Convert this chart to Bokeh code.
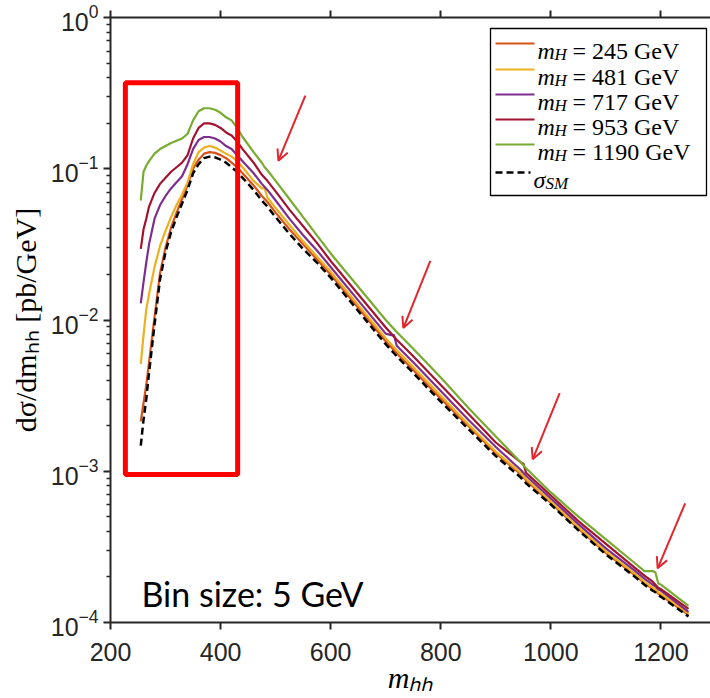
import math
from bokeh.plotting import figure
from bokeh.models import (FixedTicker, LinearAxis, Label, BoxAnnotation, Arrow,
                          OpenHead, Range1d, ColumnDataSource)
from bokeh.embed import file_html
from bokeh.resources import INLINE

# ---------------- data (log10 of dσ/dm_hh in pb/GeV) ----------------
M_HH = [255, 260, 265, 270, 280, 290, 300, 310, 320, 330, 340, 350, 360, 370, 380, 390, 400,
        410, 420, 430, 440, 460, 475, 480, 485, 500, 525, 550, 575, 600, 650, 700, 710, 715,
        720, 750, 800, 850, 900, 945, 950, 955, 1000, 1050, 1100, 1150, 1170, 1185, 1190,
        1195, 1200, 1250]

LOG_MH245 = [-2.67, -2.55, -2.43, -2.28,
             -1.98, -1.69, -1.52, -1.39, -1.29, -1.20, -1.11, -1.00, -0.94, -0.90, -0.89, -0.895, -0.91, -0.93, -0.96, -0.99, -1.03,
             -1.11, -1.18, -1.20, -1.22, -1.29,
             -1.40, -1.50, -1.60, -1.70, -1.92, -2.14,
             -2.18, -2.20, -2.22, -2.33, -2.52, -2.70, -2.88,
             -3.02, -3.04, -3.06, -3.21, -3.38, -3.54, -3.68,
             -3.74, -3.78, -3.79, -3.81, -3.82, -3.95]

LOG_MH481 = [-2.29, -2.10, -1.93, -1.83,
             -1.65, -1.51, -1.41, -1.32, -1.24, -1.17, -1.09, -0.97, -0.89, -0.86, -0.85, -0.86, -0.88, -0.90, -0.92, -0.95, -0.99,
             -1.08, -1.13, -1.13, -1.19, -1.26,
             -1.37, -1.48, -1.58, -1.68, -1.90, -2.12,
             -2.16, -2.18, -2.20, -2.31, -2.50, -2.69, -2.87,
             -3.01, -3.03, -3.05, -3.20, -3.37, -3.53, -3.67,
             -3.73, -3.77, -3.78, -3.80, -3.81, -3.94]

LOG_MH717 = [-1.89, -1.75, -1.62, -1.50,
             -1.33, -1.24, -1.18, -1.13, -1.09, -1.05, -0.97, -0.87, -0.81, -0.79, -0.79, -0.80, -0.82, -0.85, -0.87, -0.91, -0.95,
             -1.03, -1.10, -1.12, -1.14, -1.21,
             -1.33, -1.44, -1.54, -1.65, -1.87, -2.09,
             -2.10, -2.10, -2.17, -2.28, -2.47, -2.66, -2.84,
             -2.99, -3.01, -3.03, -3.18, -3.35, -3.51, -3.65,
             -3.71, -3.75, -3.76, -3.78, -3.79, -3.93]

LOG_MH953 = [-1.53, -1.40, -1.33, -1.25,
             -1.16, -1.10, -1.06, -1.02, -0.99, -0.96, -0.91, -0.80, -0.73, -0.70, -0.70, -0.71, -0.73, -0.76, -0.78, -0.82, -0.87,
             -0.96, -1.04, -1.06, -1.08, -1.15,
             -1.27, -1.38, -1.49, -1.61, -1.83, -2.05,
             -2.09, -2.11, -2.13, -2.24, -2.43, -2.62, -2.81,
             -2.94, -2.95, -3.01, -3.16, -3.33, -3.48, -3.63,
             -3.69, -3.73, -3.75, -3.77, -3.78, -3.91]

LOG_MH1190 = [-1.21, -1.02, -0.98, -0.95,
              -0.90, -0.87, -0.85, -0.83, -0.815, -0.80, -0.77, -0.68, -0.62, -0.60, -0.60, -0.61, -0.63, -0.66, -0.68, -0.73, -0.79,
              -0.89, -0.96, -0.99, -1.01, -1.08,
              -1.20, -1.32, -1.44, -1.56, -1.78, -2.00,
              -2.04, -2.06, -2.08, -2.19, -2.38, -2.58, -2.77,
              -2.94, -2.96, -2.98, -3.14, -3.30, -3.45, -3.60,
              -3.66, -3.66, -3.67, -3.74, -3.75, -3.89]

LOG_SM = [-2.83, -2.66, -2.52, -2.35,
          -2.03, -1.73, -1.55, -1.42, -1.32, -1.23, -1.14, -1.03, -0.97, -0.93, -0.92, -0.925, -0.94, -0.96, -0.99, -1.02, -1.06,
          -1.14, -1.21, -1.23, -1.25, -1.32,
          -1.43, -1.53, -1.62, -1.72, -1.94, -2.16,
          -2.20, -2.22, -2.24, -2.35, -2.54, -2.72, -2.90,
          -3.04, -3.06, -3.08, -3.22, -3.39, -3.55, -3.69,
          -3.75, -3.79, -3.80, -3.82, -3.83, -3.96]

MH_LABELS = ["245", "481", "717", "953", "1190"]
SERIES = [LOG_MH245, LOG_MH481, LOG_MH717, LOG_MH953, LOG_MH1190]
COLORS = ["#D95319", "#EDB120", "#7E2F8E", "#A2142F", "#77AC30"]

X_TICKS = [200, 400, 600, 800, 1000, 1200]
Y_TICKS = [1e-4, 1e-3, 1e-2, 1e-1, 1.0]
Y_MINOR = [m * 10.0 ** e for e in range(-4, 0) for m in range(2, 10)]

X_TITLE = "mₕₕ"
Y_TITLE = "dσ/dmₕₕ [pb/GeV]"

# ---------------- layout constants ----------------
W, H = 710, 698
FRAME_LEFT, FRAME_TOP, FRAME_RIGHT, FRAME_BOTTOM = 110, 17, 710, 622
X0, X1 = 200, 1290
Y0, Y1 = 1e-4, 1.0
AX = "#262626"
SERIF = "Liberation Serif"
SANS = "Liberation Sans"
ARROW_RED = "#E3262E"

def dx(px):
    return X0 + (px - FRAME_LEFT) * (X1 - X0) / (FRAME_RIGHT - FRAME_LEFT)

def dy(py):
    return 10 ** (math.log10(Y1) - (py - FRAME_TOP) * (math.log10(Y1) - math.log10(Y0)) / (FRAME_BOTTOM - FRAME_TOP))

p = figure(width=W, height=H, x_range=Range1d(X0, X1), y_range=Range1d(Y0, Y1),
           y_axis_type="log", output_backend="svg", toolbar_location=None,
           min_border_left=FRAME_LEFT, min_border_right=W - FRAME_RIGHT,
           min_border_top=FRAME_TOP, min_border_bottom=H - FRAME_BOTTOM)
p.outline_line_color = None
p.grid.visible = False
p.background_fill_color = "white"
p.border_fill_color = "white"

# axes
p.xaxis.ticker = FixedTicker(ticks=X_TICKS)
p.yaxis.ticker = FixedTicker(ticks=Y_TICKS, minor_ticks=Y_MINOR)
for ax in (p.xaxis[0], p.yaxis[0]):
    ax.axis_line_color = AX
    ax.axis_line_width = 2
    ax.major_tick_line_color = AX
    ax.major_tick_line_width = 2
    ax.major_tick_in = 0
    ax.major_tick_out = 7
    ax.major_label_text_font = SANS
    ax.major_label_text_font_size = "25px"
    ax.major_label_text_color = AX
    ax.axis_label_text_font = SERIF
    ax.axis_label_text_color = "black"
p.xaxis.minor_tick_line_color = None
p.xaxis.major_label_standoff = 13
p.xaxis.axis_label = X_TITLE
p.xaxis.axis_label_text_font_size = "30px"
p.xaxis.axis_label_text_font_style = "italic"
p.xaxis.axis_label_standoff = -3
p.yaxis.minor_tick_line_color = AX
p.yaxis.minor_tick_line_width = 1.5
p.yaxis.minor_tick_in = 0
p.yaxis.minor_tick_out = 4
p.yaxis.major_label_standoff = 5
p.yaxis.axis_label = Y_TITLE
p.yaxis.axis_label_text_font_size = "30px"
p.yaxis.axis_label_text_font_style = "normal"
p.yaxis.axis_label_standoff = 6

# top border with outward ticks, no labels
top = LinearAxis(ticker=FixedTicker(ticks=X_TICKS), axis_line_color=AX, axis_line_width=2,
                 major_tick_line_color=AX, major_tick_line_width=2, major_tick_in=0,
                 major_tick_out=7, minor_tick_line_color=None,
                 major_label_overrides={t: "" for t in X_TICKS},
                 major_label_text_font_size="8px", major_label_standoff=0)
p.add_layout(top, "above")

# curves
for vals, col in zip(SERIES, COLORS):
    src = ColumnDataSource(dict(x=M_HH, y=[10 ** v for v in vals]))
    p.line("x", "y", source=src, line_color=col, line_width=2.2)
src_sm = ColumnDataSource(dict(x=M_HH, y=[10 ** v for v in LOG_SM]))
p.line("x", "y", source=src_sm, line_color="black", line_width=2.5, line_dash="7 4")

# red highlight box (data region)
p.add_layout(BoxAnnotation(left=227, right=431, bottom=9.5e-4, top=0.37,
                           fill_alpha=0, line_color="#FF0000", line_alpha=1.0, line_width=5))

# red arrows
ARROWS = [((554, 0.304), (505, 0.113)),
          ((781, 0.0246), (732, 8.85e-3)),
          ((1016, 3.29e-3), (967, 1.2e-3)),
          ((1244, 6.14e-4), (1194, 2.28e-4))]
for (xs, ys), (xe, ye) in ARROWS:
    p.add_layout(Arrow(x_start=xs, y_start=ys, x_end=xe, y_end=ye, line_color=ARROW_RED,
                       line_width=2, end=OpenHead(size=11, line_color=ARROW_RED, line_width=2)))

def txt(text, px, py, size, style="normal", font=SERIF, angle=0.0, color="black", align="left"):
    p.add_layout(Label(x=X0, y=Y1, x_offset=px - FRAME_LEFT, y_offset=FRAME_TOP - py,
                       text=text, text_font=font, text_font_size=f"{size}px",
                       text_font_style=style, text_color=color, text_align=align,
                       text_baseline="alphabetic", angle=angle))

# legend
LEG_L, LEG_T, LEG_R, LEG_B = 490, 28, 706, 195
p.add_layout(BoxAnnotation(left=dx(LEG_L), right=dx(LEG_R), top=dy(LEG_T), bottom=dy(LEG_B),
                           fill_color="white", fill_alpha=1, line_color="black",
                           line_alpha=1.0, line_width=1.3))
ROWS = [43, 69, 94, 119, 144, 172]
for i, (lab, col) in enumerate(zip(MH_LABELS, COLORS)):
    ry = ROWS[i]
    p.add_layout(Arrow(x_start=dx(495), y_start=dy(ry), x_end=dx(534), y_end=dy(ry),
                       start=None, end=None, line_color=col, line_width=2.2))
    txt("m", 537, ry + 7, 24, "italic")
    txt("H", 554, ry + 11, 17, "italic")
    txt(f"= {lab} GeV", 572, ry + 7, 24)
ry = ROWS[5]
p.add_layout(Arrow(x_start=dx(495), y_start=dy(ry), x_end=dx(530), y_end=dy(ry),
                   start=None, end=None, line_color="black", line_width=2.5, line_dash="7 4"))
txt("σ", 533, ry + 7, 24, "italic")
txt("SM", 545, ry + 11, 17, "italic")

# annotation text
txt("Bin size: 5 GeV", 141, 593, 34, font="Lato")

open("out.html", "w").write(file_html(p, INLINE))
